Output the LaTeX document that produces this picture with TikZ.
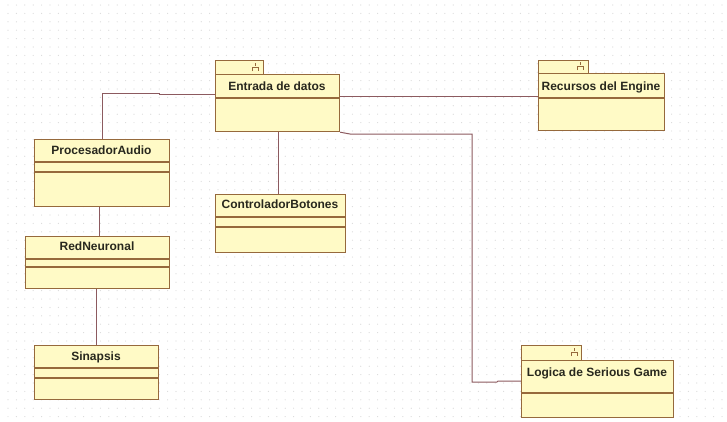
\documentclass[tikz,border=0pt]{standalone}
\usepackage{fontspec}
\newfontfamily\boxfont{Liberation Sans}[Scale=1.0]
\definecolor{boxc}{RGB}{150,105,60}
\definecolor{boxf}{RGB}{255,250,198}
\definecolor{connc}{RGB}{140,90,95}
\definecolor{txt}{RGB}{40,40,30}
\definecolor{dotc}{RGB}{218,218,218}
\tikzset{
  cbox/.style={draw=boxc, fill=boxf, line width=1.2pt, inner sep=0pt, anchor=north west, rectangle},
  divl/.style={draw=boxc, line width=1.2pt},
  ttl/.style={font=\boxfont\bfseries\fontsize{12}{14}\selectfont, text=txt, anchor=base, inner sep=0pt},
  conn/.style={draw=connc, line width=1pt},
  icon/.style={draw=boxc, line width=0.9pt}
}
\begin{document}
\begin{tikzpicture}[x=1pt,y=-1pt]
\useasboundingbox (0,0) rectangle (727,421);
\fill[white] (0,0) rectangle (727,421);
\foreach \i in {0,...,86}{\foreach \j in {0,...,49}{\fill[dotc] (8+\i*8.4,5+\j*8.4) circle[radius=0.6pt];}}

% Entrada de datos (package)
\node[cbox, minimum width=48pt, minimum height=14pt] (entTab) at (215,60) {};
\node[cbox, minimum width=124pt, minimum height=57pt] (ent) at (215,74) {};
\draw[divl] (ent.west |- 0,98) -- (ent.east |- 0,98);
\node[ttl] (entT) at (277,90.5) {Entrada de datos};
\draw[icon] (255,63) -- (255,66) (252,71) -- (252,67) -- (258,67) -- (258,71);

% Recursos del Engine (package)
\node[cbox, minimum width=50pt, minimum height=13pt] (recTab) at (538,60) {};
\node[cbox, minimum width=126pt, minimum height=57pt] (rec) at (538,73) {};
\draw[divl] (rec.west |- 0,98) -- (rec.east |- 0,98);
\node[ttl] (recT) at (601,90) {Recursos del Engine};
\draw[icon] (580,62) -- (580,65) (577,70) -- (577,66) -- (583,66) -- (583,70);

% Logica de Serious Game (package)
\node[cbox, minimum width=60pt, minimum height=15pt] (logTab) at (521,345) {};
\node[cbox, minimum width=152pt, minimum height=57pt] (log) at (521,360) {};
\draw[divl] (log.west |- 0,393) -- (log.east |- 0,393);
\node[ttl] (logT) at (597,376.5) {Logica de Serious Game};
\draw[icon] (574,348) -- (574,351) (571,356) -- (571,352) -- (577,352) -- (577,356);

% ProcesadorAudio
\node[cbox, minimum width=135pt, minimum height=67pt] (pa) at (34,139) {};
\draw[divl] (pa.west |- 0,162) -- (pa.east |- 0,162);
\draw[divl] (pa.west |- 0,172) -- (pa.east |- 0,172);
\node[ttl] (paT) at (101.5,154) {ProcesadorAudio};

% RedNeuronal
\node[cbox, minimum width=144pt, minimum height=52pt] (rn) at (25,236) {};
\draw[divl] (rn.west |- 0,259) -- (rn.east |- 0,259);
\draw[divl] (rn.west |- 0,267) -- (rn.east |- 0,267);
\node[ttl] (rnT) at (97,250.5) {RedNeuronal};

% Sinapsis
\node[cbox, minimum width=124pt, minimum height=54pt] (sin) at (34,345) {};
\draw[divl] (sin.west |- 0,368) -- (sin.east |- 0,368);
\draw[divl] (sin.west |- 0,378) -- (sin.east |- 0,378);
\node[ttl] (sinT) at (96,360) {Sinapsis};

% ControladorBotones
\node[cbox, minimum width=130pt, minimum height=58pt] (cb) at (215,194) {};
\draw[divl] (cb.west |- 0,217) -- (cb.east |- 0,217);
\draw[divl] (cb.west |- 0,227) -- (cb.east |- 0,227);
\node[ttl] (cbT) at (280,208) {ControladorBotones};

% connectors
\draw[conn] (ent.east |- 0,96) -- (rec.west |- 0,96);
\draw[conn] (ent.west |- 0,94) -- (159,94) -- (159,93) -- (pa.north |- 0,93) -- (pa.north);
\draw[conn] (pa.south -| 99,0) -- (rn.north -| 99,0);
\draw[conn] (rn.south -| 96,0) -- (sin.north -| 96,0);
\draw[conn] (ent.south -| 278,0) -- (cb.north -| 278,0);
\draw[conn] (ent.south east) -- (350,134) -- (472,134) -- (472,382) -- (497,382) -- (498,381) -- (log.west |- 0,381);
\end{tikzpicture}
\end{document}
